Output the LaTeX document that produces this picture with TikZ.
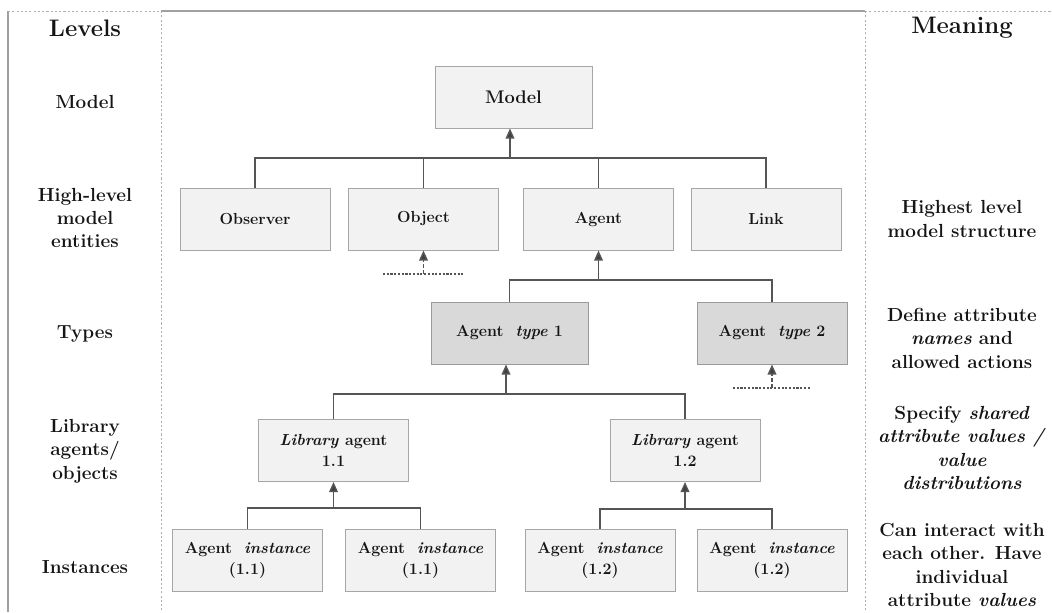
\documentclass[tikz,border=0pt]{standalone}
\usetikzlibrary{arrows.meta}

\definecolor{boxfill}{HTML}{F2F2F2}
\definecolor{boxline}{HTML}{A6A6A6}
\definecolor{typefill}{HTML}{D9D9D9}
\definecolor{typeline}{HTML}{9A9A9A}
\definecolor{connc}{HTML}{555555}
\definecolor{tipc}{HTML}{404040}
\definecolor{framec}{HTML}{A0A0A0}
\definecolor{dividc}{HTML}{AFAFAF}
\definecolor{inkc}{HTML}{151515}

\newcommand{\boxfont}{\fontsize{12}{15.75}\selectfont\bfseries}
\newcommand{\sidefont}{\fontsize{14.2}{17.6}\selectfont\bfseries}
\newcommand{\modelfont}{\fontsize{13.7}{17.6}\selectfont\bfseries}
\newcommand{\headfont}{\fontsize{17.9}{21}\selectfont\bfseries}

\begin{document}
\begin{tikzpicture}[x=0.75pt,y=-0.75pt,
  box/.style={draw=boxline, fill=boxfill, line width=0.75pt,
    minimum width=112.5pt, minimum height=46.5pt, inner sep=2pt,
    align=center, font=\boxfont, text=inkc},
  typebox/.style={box, fill=typefill, draw=typeline},
  side/.style={align=center, font=\sidefont, text=inkc, inner sep=0pt},
  head/.style={font=\headfont, text=inkc, inner sep=0pt},
  conn/.style={draw=connc, line width=1.1pt},
  arr/.style={conn, -{Triangle[width=6.5pt,length=7.5pt,fill=tipc]}},
  dasharr/.style={arr, dash pattern=on 3pt off 1.5pt},
  dotline/.style={draw=connc, line width=1pt, dash pattern=on 1.6pt off 1.2pt},
  framesolid/.style={draw=framec, line width=0.8pt},
  framedash/.style={draw=dividc, line width=0.5pt, dash pattern=on 1.6pt off 1.6pt}]

\useasboundingbox (0,0) rectangle (1052,612);
\clip (0,0) rectangle (1052,612);

% table frame and column dividers
\draw[framesolid] (8,612) -- (8,11);
\draw[framedash] (8,11) -- (161,11);
\draw[framesolid] (161,11) -- (865,11);
\draw[framedash] (865,11) -- (1052,11);
\draw[framedash] (161,11) -- (161,612);
\draw[framedash] (865,11) -- (865,612);

% column headers
\node[head] (hlev) at (85,28) {Levels};
\node[head] (hmean) at (962,28) {Meaning};

% level names
\node[side] (lmodel) at (85,102) {Model};
\node[side] (lhigh) at (85,218) {High-level\\model\\entities};
\node[side] (ltypes) at (85,334) {Types};
\node[side] (llib) at (85,451) {Library\\agents/\\objects};
\node[side] (linst) at (85,567) {Instances};

% meanings
\node[side] (mhigh) at (962,219) {Highest level\\model structure};
\node[side] (mtypes) at (962,338) {Define attribute\\\textit{names} and\\allowed actions};
\node[side] (mlib) at (962,448) {Specify \textit{shared}\\\textit{attribute values /}\\\textit{value}\\\textit{distributions}};
\node[side] (minst) at (962,565) {Can interact with\\each other. Have\\individual\\attribute \textit{values}};

% hierarchy boxes
\node[box, minimum width=117.75pt, font=\modelfont] (mdl) at (513.5,97) {Model};

\node[box] (obs) at (255,219) {Observer};
\node[box] (obj) at (423.5,219) {Object};
\node[box] (agt) at (598.5,219) {Agent};
\node[box] (lnk) at (766,219) {Link};

\node[typebox, minimum width=117.75pt] (t1) at (509.5,333) {Agent\ \ \textit{type} 1};
\node[typebox] (t2) at (772,333) {Agent\ \ \textit{type} 2};

\node[box] (l1) at (333.5,450.5) {\textit{Library} agent\\1.1};
\node[box] (l2) at (685,450.5) {\textit{Library} agent\\1.2};

\node[box] (i1) at (247.5,560.5) {Agent\ \ \textit{instance}\\(1.1)};
\node[box] (i2) at (420.5,560.5) {Agent\ \ \textit{instance}\\(1.1)};
\node[box] (i3) at (600,560.5) {Agent\ \ \textit{instance}\\(1.2)};
\node[box] (i4) at (772,560.5) {Agent\ \ \textit{instance}\\(1.2)};

% model level bus
\coordinate (b1) at (510,158);
\draw[conn] (obs.north) |- (b1) -| (lnk.north);
\draw[conn] (obj.north) -- (obj.north |- b1);
\draw[conn] (agt.north) -- (agt.north |- b1);
\draw[arr] (b1) -- (b1 |- mdl.south);

% types bus
\coordinate (b2) at (598.5,280);
\draw[conn] (t1.north) |- (b2) -| (t2.north);
\draw[arr] (b2) -- (agt.south);

% library bus
\coordinate (b3) at (506,394);
\draw[conn] (l1.north) |- (b3) -| (l2.north);
\draw[arr] (b3) -- (b3 |- t1.south);

% instance buses
\coordinate (b4) at (333.5,508);
\draw[conn] (i1.north) |- (b4) -| (i2.north);
\draw[arr] (b4) -- (l1.south);
\coordinate (b5) at (685,509);
\draw[conn] (i3.north) |- (b5) -| (i4.north);
\draw[arr] (b5) -- (l2.south);

% open-ended (dashed) inheritance
\coordinate (d1l) at (383,274);
\coordinate (d1r) at (463,274);
\draw[dotline] (d1l) -- (d1r);
\draw[dasharr] (obj.south |- d1l) -- (obj.south);

\coordinate (d2l) at (733,388);
\coordinate (d2r) at (811,388);
\draw[dotline] (d2l) -- (d2r);
\draw[dasharr] (t2.south |- d2l) -- (t2.south);

\end{tikzpicture}
\end{document}
